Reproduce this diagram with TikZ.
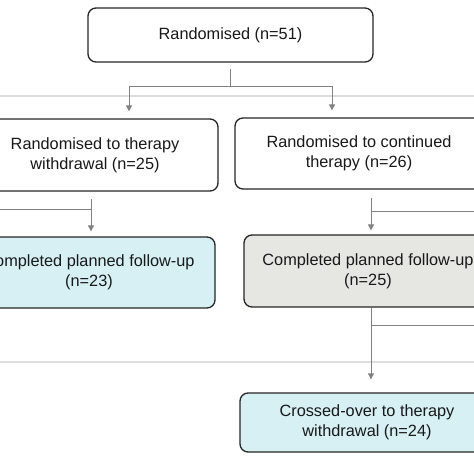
\documentclass[tikz,border=0pt]{standalone}
\usepackage{fontspec}
\setmainfont{Liberation Sans}
\usetikzlibrary{arrows.meta}
\definecolor{boxcyan}{RGB}{214,240,244}
\definecolor{boxgray}{RGB}{230,230,226}
\definecolor{linegray}{RGB}{130,130,130}
\definecolor{sepgray}{RGB}{222,222,222}
\definecolor{txt}{RGB}{25,25,25}
\tikzset{
  box/.style={draw=black!85, line width=1.3pt, rounded corners=8pt, align=center,
    text=txt, inner sep=0pt, font=\fontsize{16.3}{20}\selectfont},
  conn/.style={draw=linegray, line width=0.9pt},
  arr/.style={conn, -{Triangle[width=6pt,length=6pt]}},
  sep/.style={draw=sepgray, line width=1.4pt}
}
\begin{document}
\begin{tikzpicture}[x=1pt,y=-1pt]
\useasboundingbox (0,0) rectangle (474,474);
\clip (0,0) rectangle (474,474);
\fill[white] (0,0) rectangle (474,474);
% separators
\draw[sep] (0,96) -- (474,96);
\draw[sep] (0,362) -- (474,362);
% boxes
\node[box, minimum width=285pt, minimum height=54pt] (top) at (230.5,35) {Randomised (n=51)};
\node[box, minimum width=246pt, minimum height=72pt] (l2) at (95,155) {Randomised to therapy\\withdrawal (n=25)};
\node[box, minimum width=248pt, minimum height=71pt] (r2) at (359,153.5) {Randomised to continued\\therapy (n=26)};
\node[box, fill=boxcyan, minimum width=252pt, minimum height=71pt] (l3) at (89,272.5) {Completed planned follow-up\\(n=23)};
\node[box, fill=boxgray, minimum width=248pt, minimum height=72pt] (r3) at (368,271) {Completed planned follow-up\\(n=25)};
\node[box, fill=boxcyan, minimum width=254pt, minimum height=59pt] (bt) at (367,422.5) {Crossed-over to therapy\\withdrawal (n=24)};
% connectors: top split
\coordinate (j1) at (230.5,86);
\coordinate (jl) at (129,86);
\coordinate (jr) at (332,86);
\draw[conn] ([yshift=-6pt]top.south) -- (j1);
\draw[conn] (jl) -- (jr);
\draw[arr] (jl) -- ([yshift=7pt]jl |- l2.north);
\draw[arr] (jr) -- ([yshift=7pt]jr |- r2.north);
% below left box
\coordinate (bl) at (91,199);
\coordinate (blh) at (91,209);
\coordinate (blx) at (-5,209);
\draw[arr] (bl) -- ([yshift=5pt]bl |- l3.north);
\draw[conn] (blx) -- (blh);
% below right box
\coordinate (br) at (371,198);
\coordinate (brh) at (371,211);
\coordinate (brx) at (480,211);
\draw[arr] (br) -- ([yshift=4pt]br |- r3.north);
\draw[conn] (brh) -- (brx);
% below right follow-up
\coordinate (cr) at (371,307.5);
\coordinate (crh) at (371,325);
\coordinate (crx) at (480,325);
\draw[arr] (cr) -- ([yshift=13pt]cr |- bt.north);
\draw[conn] (crh) -- (crx);
\end{tikzpicture}
\end{document}
